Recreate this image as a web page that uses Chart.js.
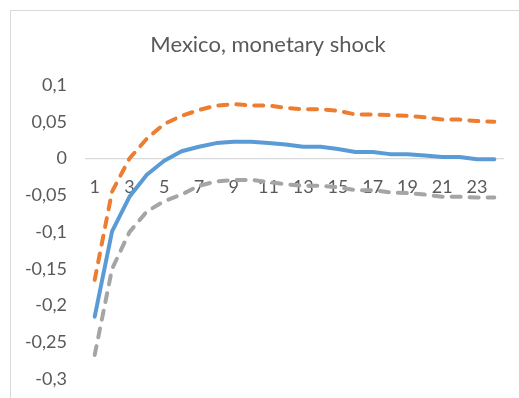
<!DOCTYPE html>
<html>
<head>
<meta charset="utf-8">
<script src="https://cdn.jsdelivr.net/npm/chart.js@4/dist/chart.umd.min.js"></script>
<style>
  html, body { margin: 0; padding: 0; background: #fff; overflow: hidden; }
  .frame { position: absolute; left: 10px; top: 10px; width: 600px; height: 600px; border: 1px solid #d9d9d9; }
  .wrap { position: absolute; left: 0; top: 0; width: 519px; height: 409px; }
</style>
</head>
<body>
<div class="frame"></div>
<div class="wrap"><canvas id="irfChart"></canvas></div>
<script>
const periods = ['1','2','3','4','5','6','7','8','9','10','11','12','13','14','15','16','17','18','19','20','21','22','23','24'];
const response = [-0.215, -0.099, -0.052, -0.022, -0.003, 0.010, 0.016, 0.021, 0.023, 0.023, 0.021, 0.019, 0.016, 0.016, 0.013, 0.009, 0.009, 0.006, 0.006, 0.004, 0.002, 0.002, -0.001, -0.001];
const upperBand = [-0.165, -0.045, 0.000, 0.027, 0.047, 0.058, 0.066, 0.072, 0.074, 0.072, 0.072, 0.069, 0.067, 0.067, 0.065, 0.060, 0.060, 0.059, 0.058, 0.056, 0.053, 0.053, 0.051, 0.050];
const lowerBand = [-0.267, -0.150, -0.100, -0.072, -0.058, -0.049, -0.037, -0.031, -0.029, -0.029, -0.032, -0.035, -0.037, -0.037, -0.039, -0.043, -0.043, -0.046, -0.047, -0.049, -0.052, -0.052, -0.053, -0.053];
const yTickValues = [0.1, 0.05, 0, -0.05, -0.1, -0.15, -0.2, -0.25, -0.3];
const yTickLabels = ['0,1', '0,05', '0', '-0,05', '-0,1', '-0,15', '-0,2', '-0,25', '-0,3'];

const textColor = '#595959';
const fontFamily = 'Lato, "Open Sans", sans-serif';

const ctx = document.getElementById('irfChart');
new Chart(ctx, {
  type: 'line',
  data: {
    labels: periods,
    datasets: [
      { label: 'Upper', data: upperBand, borderColor: '#ED7D31', borderWidth: 4, borderDash: [9, 9], borderCapStyle: 'round', pointRadius: 0, tension: 0, fill: false },
      { label: 'Lower', data: lowerBand, borderColor: '#A5A5A5', borderWidth: 4, borderDash: [9, 9], borderCapStyle: 'round', pointRadius: 0, tension: 0, fill: false },
      { label: 'Response', data: response, borderColor: '#5B9BD5', borderWidth: 4, borderJoinStyle: 'round', borderCapStyle: 'round', pointRadius: 0, tension: 0, fill: false },
    ],
  },
  options: {
    responsive: true,
    maintainAspectRatio: false,
    animation: false,
    layout: { padding: { left: 20, right: 3, top: 0, bottom: 19 } },
    plugins: {
      legend: { display: false },
      tooltip: { enabled: false },
      title: {
        display: true,
        text: 'Mexico, monetary shock',
        color: textColor,
        font: { family: fontFamily, size: 22, weight: 'normal' },
        padding: { top: 32, bottom: 26.6 },
      },
    },
    scales: {
      x: {
        type: 'category',
        position: { y: 0 },
        offset: true,
        afterFit: (scale) => { scale.height = 0; },
        grid: { display: false, drawTicks: false },
        border: { display: true, color: '#D9D9D9', width: 1.3 },
        ticks: {
          autoSkip: false,
          maxRotation: 0,
          padding: 18,
          color: textColor,
          font: { family: fontFamily, size: 18 },
          callback: (value, index) => (index % 2 === 0 ? periods[index] : ''),
        },
      },
      y: {
        min: -0.3,
        max: 0.1,
        afterFit: (scale) => { scale.width = 66; },
        grid: { display: false, drawTicks: false },
        border: { display: false },
        ticks: {
          stepSize: 0.05,
          padding: 19,
          color: textColor,
          font: { family: fontFamily, size: 18 },
          callback: (value) => {
            const i = yTickValues.findIndex((v) => Math.abs(v - value) < 1e-6);
            return i >= 0 ? yTickLabels[i] : '';
          },
        },
      },
      spacer: {
        type: 'linear',
        position: 'right',
        display: true,
        afterFit: (scale) => { scale.width = 13; },
        grid: { display: false, drawTicks: false },
        border: { display: false },
        ticks: { display: false },
      },
    },
  },
});
</script>
</body>
</html>
